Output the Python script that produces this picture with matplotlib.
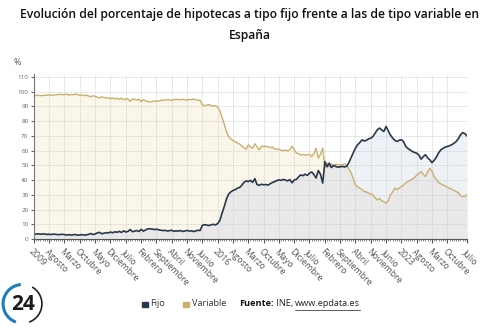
import numpy as np
import pandas as pd
import matplotlib
matplotlib.use("Agg")
import matplotlib.pyplot as plt
from matplotlib.patches import Arc, Rectangle

# monthly shares (%), Jan 2009 .. Jul 2025
fijo = [
    3.5, 3.4, 3.6, 3.3, 3.5, 3.4, 3.2, 3.3, 3.1, 3.4, 3.2, 3.0,          # 2009
    3.1, 3.3, 3.0, 2.8, 3.0, 2.7, 2.9, 3.1, 2.6, 2.8, 3.0, 2.7,          # 2010
    2.9, 3.2, 3.8, 3.1, 3.4, 4.2, 4.6, 3.6, 4.0, 4.4, 4.1, 4.8,          # 2011
    4.3, 5.0, 4.6, 5.3, 4.5, 5.6, 4.8, 5.2, 6.5, 5.0, 5.4, 5.8,          # 2012
    5.2, 6.6, 5.4, 6.2, 6.9, 7.0, 6.8, 6.5, 6.7, 6.3, 6.0, 5.8,          # 2013
    5.9, 5.5, 5.7, 6.0, 5.3, 5.6, 5.4, 5.8, 5.2, 5.5, 5.9, 5.4,          # 2014
    5.6, 5.1, 5.5, 6.0, 5.8, 9.3, 9.8, 9.5, 9.2, 9.7, 10.0, 9.6,         # 2015
    10.5, 12.8, 17.5, 22.0, 27.0, 30.5, 32.0, 33.0, 33.5, 34.5, 35.0, 36.5,  # 2016
    38.5, 39.5, 39.0, 39.8, 38.5, 41.0, 37.0, 36.5, 37.2, 36.8, 37.0, 36.6,  # 2017
    37.5, 38.4, 39.0, 39.6, 40.2, 39.8, 40.5, 40.0, 39.5, 40.3, 38.2, 40.1,  # 2018
    40.5, 42.3, 43.5, 43.0, 44.0, 43.2, 44.7, 45.5, 43.8, 41.4, 46.5, 44.0,  # 2019
    38.0, 52.5, 49.0, 51.5, 48.5, 50.0, 49.2, 48.8, 49.0, 49.3, 48.9, 49.5,  # 2020
    52.0, 55.5, 58.5, 61.7, 64.0, 65.5, 67.3, 66.5, 67.0, 68.0, 68.5, 69.6,  # 2021
    72.0, 74.2, 75.3, 74.0, 73.0, 76.4, 73.5, 70.5, 68.5, 67.0, 66.2, 67.0,  # 2022
    67.4, 66.0, 62.8, 61.5, 60.5, 59.4, 58.8, 58.2, 57.0, 54.2, 56.0, 57.2,  # 2023
    55.0, 53.7, 51.8, 53.5, 55.5, 58.5, 60.5, 61.5, 62.4, 62.8, 63.3, 64.0,  # 2024
    65.0, 66.2, 68.0, 70.7, 72.2, 71.5, 70.0,                              # 2025
]
variable = [
    97.5, 97.3, 97.6, 97.2, 97.5, 97.4, 97.6, 97.8, 97.5, 97.6, 97.8, 98.0,  # 2009
    98.2, 97.9, 98.1, 98.3, 97.6, 98.0, 97.8, 98.4, 97.9, 97.5, 97.8, 97.2,  # 2010
    97.6, 97.0, 96.5, 97.2, 96.8, 96.2, 95.8, 96.5, 96.0, 95.6, 95.9, 95.2,  # 2011
    95.8, 95.0, 95.5, 94.8, 95.6, 94.5, 95.2, 94.9, 93.5, 95.0, 94.7, 94.3,  # 2012
    94.8, 93.3, 94.6, 93.8, 93.2, 93.0, 93.3, 93.6, 93.4, 93.8, 94.0, 94.3,  # 2013
    94.2, 94.6, 94.4, 94.0, 94.7, 94.5, 94.8, 94.3, 94.9, 94.5, 94.2, 94.7,  # 2014
    94.6, 95.0, 94.5, 94.0, 94.2, 91.0, 90.5, 90.8, 91.2, 90.6, 90.2, 90.5,  # 2015
    89.5, 87.0, 82.5, 78.0, 73.0, 69.5, 68.0, 66.8, 66.2, 65.0, 64.5, 63.2,  # 2016
    61.8, 61.0, 63.9, 62.5, 61.6, 64.6, 62.5, 60.5, 63.0, 62.8, 63.0, 62.5,  # 2017
    62.0, 62.3, 61.2, 60.8, 61.0, 60.2, 60.0, 60.4, 59.8, 60.6, 63.0, 60.5,  # 2018
    58.5, 57.8, 57.0, 57.5, 56.8, 57.2, 57.4, 56.0, 58.0, 61.5, 55.0, 57.5,  # 2019
    61.7, 48.5, 51.5, 49.0, 51.0, 49.5, 50.8, 50.5, 50.3, 50.6, 51.0, 50.2,  # 2020
    47.5, 44.7, 41.0, 36.7, 35.5, 34.5, 33.5, 32.2, 32.0, 31.2, 30.5, 29.9,  # 2021
    27.9, 26.5, 27.6, 26.0, 25.4, 24.3, 26.0, 30.0, 32.0, 34.5, 33.4, 34.8,  # 2022
    35.5, 36.7, 38.0, 39.0, 39.8, 40.6, 41.5, 43.5, 44.5, 45.8, 44.0, 42.4,  # 2023
    45.5, 48.0, 46.0, 42.4, 40.5, 38.3, 37.5, 36.7, 36.0, 35.2, 34.5, 33.8,  # 2024
    33.0, 32.2, 31.5, 29.5, 28.8, 29.0, 30.0,                              # 2025
]

tick_dates = ["2009-01", "2009-08", "2010-03", "2010-10", "2011-05", "2011-12",
              "2012-07", "2013-02", "2013-09", "2014-04", "2014-11", "2015-06",
              "2016-01", "2016-08", "2017-03", "2017-10", "2018-05", "2018-12",
              "2019-07", "2020-02", "2020-09", "2021-04", "2021-11", "2022-06",
              "2023-01", "2023-08", "2024-03", "2024-10", "2025-07"]
tick_labels = ["2009", "Agosto", "Marzo", "Octubre", "Mayo", "Diciembre",
               "Julio", "Febrero", "Septiembre", "Abril", "Noviembre", "Junio",
               "2016", "Agosto", "Marzo", "Octubre", "Mayo", "Diciembre",
               "Julio", "Febrero", "Septiembre", "Abril", "Noviembre", "Junio",
               "2023", "Agosto", "Marzo", "Octubre", "Julio"]

plt.rcParams['font.family'] = ['Open Sans', 'DejaVu Sans']

dates = pd.date_range("2009-01-01", periods=len(fijo), freq="MS")
f = np.array(fijo)
v = np.array(variable)

c_fijo = "#27384a"
c_var = "#c9b06e"

fig = plt.figure(figsize=(5, 3.33), dpi=100)
ax = fig.add_axes([0.068, 0.282, 0.866, 0.496])

ax.fill_between(dates, 0, v, color="#fbf6ea", lw=0)
ax.fill_between(dates, 0, f, color="#eef2f7", lw=0)
ax.fill_between(dates, 0, np.minimum(f, v), color="#e9e9e9", lw=0)
ax.plot(dates, v, color=c_var, lw=1.0)
ax.plot(dates, f, color=c_fijo, lw=1.2)

ax.set_xlim(dates[0], dates[-1])
ax.set_ylim(0, 112)
ax.set_yticks(range(0, 111, 10))
ax.tick_params(axis="y", labelsize=4.5, colors="#666666", length=2, pad=2)

tpos = pd.to_datetime(tick_dates)
ax.set_xticks(tpos)
ax.set_xticklabels(tick_labels, rotation=-45, ha="left", rotation_mode="anchor",
                   fontsize=6.3, color="#555555")
ax.set_xticks(dates, minor=True)
ax.tick_params(axis="x", which="major", length=3, color="#555555", pad=3)
ax.tick_params(axis="x", which="minor", length=1.5, color="#777777")

ax.grid(True, color="#cccccc", ls=(0, (1, 1)), lw=0.6)
for s in ["top", "right"]:
    ax.spines[s].set_visible(False)
ax.spines["left"].set_color("#777777")
ax.spines["bottom"].set_color("#555555")

fig.text(0.5, 0.925, "Evolución del porcentaje de hipotecas a tipo fijo frente a las de tipo variable en\nEspaña",
         ha="center", va="center", fontsize=8.7, fontweight="semibold", linespacing=1.75,
         color="#111111")
fig.text(0.028, 0.812, "%", fontsize=6.5, color="#555555", ha="left", va="center")

# legend / source, placed one after another
ly = 0.088
fs = 6.6
fig.patches.append(Rectangle((0.284, ly - 0.011), 0.011, 0.017, color=c_fijo, transform=fig.transFigure))
fig.text(0.300, ly, "Fijo", fontsize=fs, va="center", color="#333333")
fig.patches.append(Rectangle((0.366, ly - 0.011), 0.011, 0.017, color=c_var, transform=fig.transFigure))
fig.text(0.383, ly, "Variable", fontsize=fs, va="center", color="#333333")

renderer = fig.canvas.get_renderer()
x0 = 0.478
pieces = [("Fuente:", "bold", "#111111"), (" INE, ", "normal", "#222222"),
          ("www.epdata.es", "normal", "#222222")]
for txt, wt, col in pieces:
    t = fig.text(x0, ly, txt, fontsize=fs, va="center", fontweight=wt, color=col)
    bb = t.get_window_extent(renderer).transformed(fig.transFigure.inverted())
    if txt.startswith("www"):
        fig.add_artist(plt.Line2D([x0, bb.x1], [ly - 0.019, ly - 0.019], lw=0.6, color="#444444"))
    x0 = bb.x1

# logo
lax = fig.add_axes([0.0, 0.02, 0.09, 0.135])
lax.set_xlim(-1.1, 1.1)
lax.set_ylim(-1.1, 1.1)
lax.set_aspect("equal")
lax.axis("off")
lax.add_patch(Arc((0, 0), 1.9, 1.9, theta1=95, theta2=250, color="#1d7fb8", lw=2.2))
lax.add_patch(Arc((0, 0), 1.9, 1.9, theta1=-70, theta2=60, color="#222222", lw=1.2))
lax.text(0.02, -0.05, "24", fontsize=15, fontweight="bold", ha="center", va="center", color="#1a1a1a")

fig.savefig("out.png", dpi=100)
